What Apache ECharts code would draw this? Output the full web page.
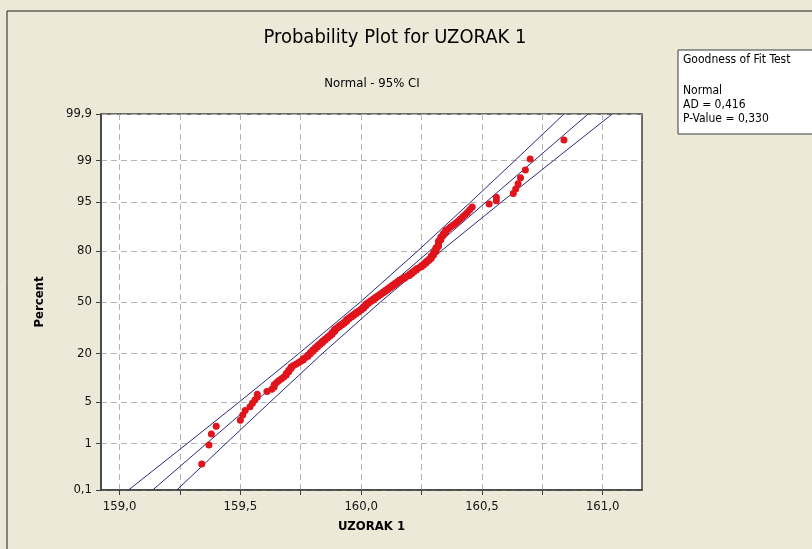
<!DOCTYPE html>
<html>
<head>
<meta charset="utf-8">
<script src="https://cdn.jsdelivr.net/npm/echarts@6/dist/echarts.min.js"></script>
<style>
html, body { margin: 0; padding: 0; background: #ece9d8; }
#chart { width: 812px; height: 549px; }
</style>
</head>
<body>
<div id="chart"></div>
<script>
const uzorak = [
    159.34, 159.37, 159.38, 159.40, 159.50, 159.51, 159.52, 159.54, 159.55, 159.56,
    159.57, 159.57, 159.61, 159.63, 159.64, 159.64, 159.65, 159.66, 159.67, 159.68,
    159.69, 159.69, 159.70, 159.70, 159.71, 159.71, 159.72, 159.73, 159.74, 159.75,
    159.76, 159.76, 159.77, 159.78, 159.78, 159.79, 159.79, 159.80, 159.80, 159.81,
    159.81, 159.82, 159.82, 159.83, 159.83, 159.84, 159.84, 159.85, 159.85, 159.86,
    159.86, 159.87, 159.87, 159.88, 159.88, 159.88, 159.89, 159.89, 159.89, 159.90,
    159.90, 159.91, 159.91, 159.92, 159.92, 159.93, 159.93, 159.94, 159.94, 159.94,
    159.95, 159.95, 159.96, 159.96, 159.97, 159.97, 159.98, 159.98, 159.99, 159.99,
    160.00, 160.00, 160.01, 160.01, 160.01, 160.02, 160.02, 160.02, 160.03, 160.03,
    160.04, 160.04, 160.05, 160.05, 160.06, 160.06, 160.07, 160.07, 160.08, 160.08,
    160.09, 160.09, 160.10, 160.10, 160.11, 160.11, 160.12, 160.12, 160.13, 160.13,
    160.14, 160.14, 160.15, 160.15, 160.16, 160.16, 160.17, 160.18, 160.18, 160.19,
    160.20, 160.20, 160.21, 160.21, 160.22, 160.22, 160.23, 160.23, 160.24, 160.25,
    160.25, 160.26, 160.26, 160.27, 160.27, 160.28, 160.28, 160.29, 160.29, 160.29,
    160.30, 160.30, 160.30, 160.31, 160.31, 160.31, 160.31, 160.32, 160.32, 160.32,
    160.32, 160.32, 160.33, 160.33, 160.33, 160.34, 160.34, 160.35, 160.35, 160.36,
    160.37, 160.38, 160.39, 160.40, 160.41, 160.42, 160.43, 160.44, 160.45, 160.46,
    160.53, 160.56, 160.56, 160.63, 160.64, 160.65, 160.66, 160.68, 160.70, 160.84
];

// percent levels (y ticks) and the fitted line / 95% CI read at those levels
const percentTicks = [0.1, 1, 5, 20, 50, 80, 95, 99, 99.9];
const fitLine = [159.137, 159.360, 159.559, 159.793, 160.039, 160.284, 160.518, 160.717, 160.940];
const ciUpper = [159.037, 159.280, 159.495, 159.744, 159.997, 160.235, 160.454, 160.637, 160.840];
const ciLower = [159.237, 159.440, 159.623, 159.841, 160.080, 160.332, 160.582, 160.797, 161.040];

const xTicks = [159.0, 159.25, 159.5, 159.75, 160.0, 160.25, 160.5, 160.75, 161.0];
const xLabels = [159.0, 159.5, 160.0, 160.5, 161.0];

// inverse normal cdf (Acklam) -> normal probability scale
const normInv = (p) => {
    const a = [-39.69683028665376, 220.9460984245205, -275.9285104469687, 138.3577518672690, -30.66479806614716, 2.506628277459239];
    const b = [-54.47609879822406, 161.5858368580409, -155.6989798598866, 66.80131188771972, -13.28068155288572];
    const c = [-0.007784894002430293, -0.3223964580411365, -2.400758277161838, -2.549732539343734, 4.374664141464968, 2.938163982698783];
    const d = [0.007784695709041462, 0.3224671290700398, 2.445134137142996, 3.754408661907416];
    const pl = 0.02425;
    let q, r;
    if (p < pl) {
        q = Math.sqrt(-2 * Math.log(p));
        return (((((c[0]*q+c[1])*q+c[2])*q+c[3])*q+c[4])*q+c[5]) / ((((d[0]*q+d[1])*q+d[2])*q+d[3])*q+1);
    }
    if (p > 1 - pl) {
        q = Math.sqrt(-2 * Math.log(1 - p));
        return -(((((c[0]*q+c[1])*q+c[2])*q+c[3])*q+c[4])*q+c[5]) / ((((d[0]*q+d[1])*q+d[2])*q+d[3])*q+1);
    }
    q = p - 0.5;
    r = q * q;
    return (((((a[0]*r+a[1])*r+a[2])*r+a[3])*r+a[4])*r+a[5])*q / (((((b[0]*r+b[1])*r+b[2])*r+b[3])*r+b[4])*r+1);
};

const zTicks = percentTicks.map(p => normInv(p / 100));
const n = uzorak.length;
// median ranks (Benard) as Minitab does
const points = uzorak.map((v, i) => [v, normInv((i + 1 - 0.3) / (n + 0.4))]);
const toLine = (xs) => xs.map((x, i) => [x, zTicks[i]]);

const fmtComma = (v) => String(v).replace('.', ',');
const font = 'Tahoma, "DejaVu Sans Condensed", "Liberation Sans", sans-serif';

const chart = echarts.init(document.getElementById('chart'));
chart.setOption({
    backgroundColor: '#ece9d8',
    animation: false,
    textStyle: { fontFamily: font },
    grid: {
        left: 101, right: 170, top: 114, bottom: 59,
        show: true, backgroundColor: '#ffffff',
        borderColor: '#3f3f3f', borderWidth: 1.5
    },
    xAxis: {
        type: 'value',
        min: 158.923, max: 161.163,
        name: 'UZORAK 1',
        nameLocation: 'middle',
        nameGap: 30,
        nameTextStyle: { fontFamily: font, fontWeight: 'bold', fontSize: 13, color: '#000' },
        axisLine: { onZero: false, lineStyle: { color: '#3f3f3f', width: 1.5 } },
        axisTick: { customValues: xTicks, length: 5, lineStyle: { color: '#3f3f3f' } },
        axisLabel: {
            customValues: xLabels, margin: 10, fontSize: 13, color: '#111',
            formatter: (v) => v.toFixed(1).replace('.', ',')
        },
        splitLine: { show: true, lineStyle: { color: '#b4b4b4', type: [6, 4], width: 1 } }
    },
    yAxis: {
        type: 'value',
        min: zTicks[0], max: zTicks[zTicks.length - 1],
        name: 'Percent',
        nameLocation: 'middle',
        nameGap: 55,
        nameRotate: 90,
        nameTextStyle: { fontFamily: font, fontWeight: 'bold', fontSize: 13, color: '#000' },
        axisLine: { onZero: false, lineStyle: { color: '#3f3f3f', width: 1.5 } },
        axisTick: { customValues: zTicks, length: 5, lineStyle: { color: '#3f3f3f' } },
        axisLabel: {
            customValues: zTicks, margin: 9, fontSize: 13, color: '#111',
            formatter: (v) => {
                let best = 0;
                zTicks.forEach((z, i) => { if (Math.abs(z - v) < Math.abs(zTicks[best] - v)) best = i; });
                return fmtComma(percentTicks[best]);
            }
        },
        splitLine: { show: true, lineStyle: { color: '#b4b4b4', type: [6, 4], width: 1 } }
    },
    series: [
        {
            type: 'line', data: toLine(ciUpper), symbol: 'none', z: 2,
            lineStyle: { color: '#2a2a78', width: 1 }
        },
        {
            type: 'line', data: toLine(fitLine), symbol: 'none', z: 2,
            lineStyle: { color: '#2a2a78', width: 1 }
        },
        {
            type: 'line', data: toLine(ciLower), symbol: 'none', z: 2,
            lineStyle: { color: '#2a2a78', width: 1 }
        },
        {
            type: 'scatter', data: points, symbolSize: 7, z: 3,
            itemStyle: { color: '#e0141c', opacity: 1 }
        }
    ],
    graphic: [
        {
            type: 'rect', silent: true, z: -1,
            shape: { x: 7, y: 11, width: 900, height: 700 },
            style: { fill: 'none', stroke: '#1e1e1e', lineWidth: 1 }
        },
        {
            type: 'text', x: 395, y: 38,
            style: { text: 'Probability Plot for UZORAK 1', font: '20px ' + font, fill: '#000', align: 'center', verticalAlign: 'middle' }
        },
        {
            type: 'text', x: 372, y: 84,
            style: { text: 'Normal - 95% CI', font: '13px ' + font, fill: '#000', align: 'center', verticalAlign: 'middle' }
        },
        {
            type: 'rect', silent: true,
            shape: { x: 678, y: 50, width: 200, height: 84 },
            style: { fill: '#ffffff', stroke: '#3a3a3a', lineWidth: 1 }
        },
        {
            type: 'text', x: 683, y: 60,
            style: { text: 'Goodness of Fit Test', font: '12px ' + font, fill: '#000', verticalAlign: 'middle' }
        },
        {
            type: 'text', x: 683, y: 91,
            style: { text: 'Normal', font: '12px ' + font, fill: '#000', verticalAlign: 'middle' }
        },
        {
            type: 'text', x: 683, y: 105,
            style: { text: 'AD = 0,416', font: '12px ' + font, fill: '#000', verticalAlign: 'middle' }
        },
        {
            type: 'text', x: 683, y: 119,
            style: { text: 'P-Value = 0,330', font: '12px ' + font, fill: '#000', verticalAlign: 'middle' }
        }
    ]
});
</script>
</body>
</html>
